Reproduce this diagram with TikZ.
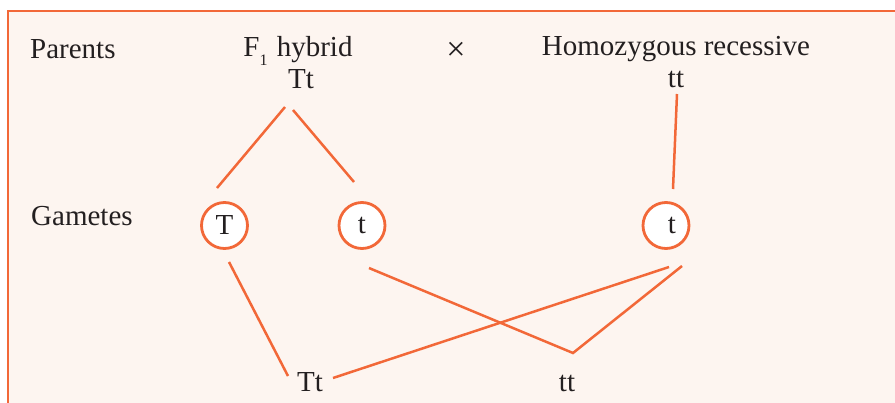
\documentclass[tikz,border=0pt]{standalone}
\usepackage{fontspec}
\setmainfont{Liberation Serif}
\usetikzlibrary{positioning, calc}
\definecolor{crossorange}{RGB}{242, 104, 56}
\definecolor{panelpeach}{RGB}{253, 245, 240}
\definecolor{inkgray}{RGB}{35, 31, 32}

\begin{document}
\begin{tikzpicture}[
    x=1pt, y=-1pt,
    txt/.style={text=inkgray, font=\fontsize{29}{34}\selectfont, inner sep=0pt},
    gamete/.style={draw=crossorange, line width=2.8pt, circle, fill=white, minimum size=46pt, inner sep=0pt, text=inkgray, font=\fontsize{29}{34}\selectfont},
    link/.style={draw=crossorange, line width=2.5pt}
]
\useasboundingbox (0,0) rectangle (895,402);

% Panel
\fill[panelpeach] (8,11) rectangle (905,410);
\draw[crossorange, line width=2.8pt] (8,410) -- (8,11) -- (905,11);

% Parents
\node[txt, anchor=base west] (parents) at (30,58) {Parents};
\node[txt, anchor=base] (hyb) at (298,56) {F\raisebox{-9pt}{\fontsize{16}{16}\selectfont 1}\hspace{2pt} hybrid};
\node[txt, anchor=base] (p1) at (301,88) {Tt};
\node[txt, font=\fontsize{34}{38}\selectfont] (cross) at (456,51) {×};
\node[txt, anchor=base] (hom) at (676,55) {Homozygous recessive};
\node[txt, anchor=base] (p2) at (676,87) {tt};

% Gametes
\node[txt, anchor=base west] (gamlbl) at (31,225) {Gametes};
\node[gamete] (gT) at (224.5,225.5) {T};
\node[gamete] (gt1) at (362,225.5) {t};
\node[gamete] (gt2) at (666,225.5) {\hspace*{12pt}t};
\draw[link] ([shift={(-16,19)}]p1.base) -- ([shift={(-7.5,-37.5)}]gT.center);
\draw[link] ([shift={(-8,22)}]p1.base) -- ([shift={(-8,-43.5)}]gt1.center);
\draw[link] ([shift={(1,7)}]p2.base) -- ([shift={(7,-36.5)}]gt2.center);

% Offspring
\node[txt, anchor=base] (o1) at (310,391) {Tt};
\node[txt, anchor=base] (o2) at (567,391) {tt};
\coordinate (join) at (573,353);
\draw[link] ([shift={(4.5,36.5)}]gT.center) -- ([shift={(-22,-15)}]o1.base);
\draw[link] ([shift={(7,42.5)}]gt1.center) -- (join) -- ([shift={(16,40.5)}]gt2.center);
\draw[link] ([shift={(23,-13)}]o1.base) -- ([shift={(3,41.5)}]gt2.center);

\end{tikzpicture}
\end{document}
